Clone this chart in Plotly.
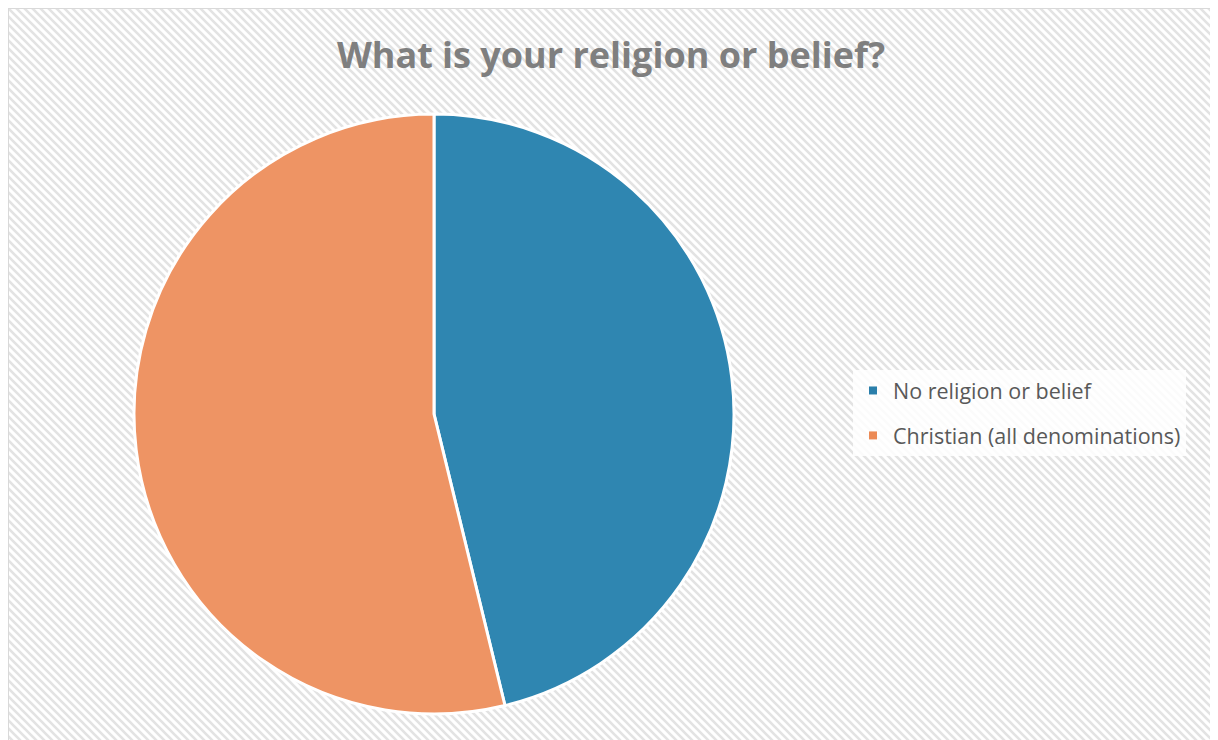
import base64
import plotly.graph_objects as go

# ---- data ----
categories = ["No religion or belief", "Christian (all denominations)"]
values = [46.2, 53.8]
colors = ["#2f86b1", "#ee9464"]
legend_colors = ["#2a7fab", "#ec8a55"]
title_text = "What is your religion or belief?"

# figure is placed 8px in from the window edge by the page margin
W, H = 1210, 732

# hatched background pattern (SVG)
svg = f'''<svg xmlns="http://www.w3.org/2000/svg" width="{W}" height="{H}">
<defs><pattern id="p" patternUnits="userSpaceOnUse" width="8" height="8">
<rect width="8" height="8" fill="#ffffff"/>
<path d="M-2,-2 L10,10 M-6,2 L2,10 M6,-2 L10,2" stroke="#e3e3e3" stroke-width="2.6"/>
</pattern></defs>
<rect width="{W}" height="{H}" fill="url(#p)"/></svg>'''
bg_uri = "data:image/svg+xml;base64," + base64.b64encode(svg.encode()).decode()

fig = go.Figure()
fig.add_trace(go.Pie(
    labels=categories,
    values=values,
    sort=False,
    direction="clockwise",
    rotation=0,
    marker=dict(colors=colors, line=dict(color="#ffffff", width=3)),
    textinfo="none",
    hoverinfo="label+percent",
    showlegend=False,
    domain=dict(x=[126 / W, 726 / W], y=[(H - 706) / H, (H - 106) / H]),
))

# legend entries
for i, (name, col) in enumerate(zip(categories, legend_colors)):
    fig.add_trace(go.Scatter(
        x=[None], y=[None], mode="markers", name=name,
        marker=dict(symbol="square", size=8, color=col),
        legendgroup=f"g{i}", showlegend=True, hoverinfo="skip",
    ))

fig.update_layout(
    width=W, height=H,
    margin=dict(l=0, r=0, t=0, b=0),
    paper_bgcolor="#ffffff",
    plot_bgcolor="rgba(0,0,0,0)",
    xaxis=dict(visible=False),
    yaxis=dict(visible=False),
    title=dict(
        text=f"<b>{title_text}</b>",
        x=603 / W, xanchor="center", y=1 - 47 / H, yanchor="middle",
        font=dict(family="Open Sans", size=36, color="#7f7f7f"),
    ),
    legend=dict(
        x=845 / W, xanchor="left", y=(H - 362) / H, yanchor="top",
        bgcolor="rgba(255,255,255,0.85)",
        font=dict(family="Open Sans", size=21.5, color="#595959"),
        tracegroupgap=14,
        itemsizing="trace",
    ),
    images=[dict(
        source=bg_uri, xref="paper", yref="paper",
        x=0, y=1, sizex=1, sizey=1,
        xanchor="left", yanchor="top", sizing="stretch", layer="below",
    )],
    shapes=[dict(
        type="rect", xref="paper", yref="paper",
        x0=0, y0=-0.02, x1=1.02, y1=1,
        line=dict(color="#d9d9d9", width=2), fillcolor="rgba(0,0,0,0)",
        layer="below",
    )],
)

fig.write_html("out.html")
